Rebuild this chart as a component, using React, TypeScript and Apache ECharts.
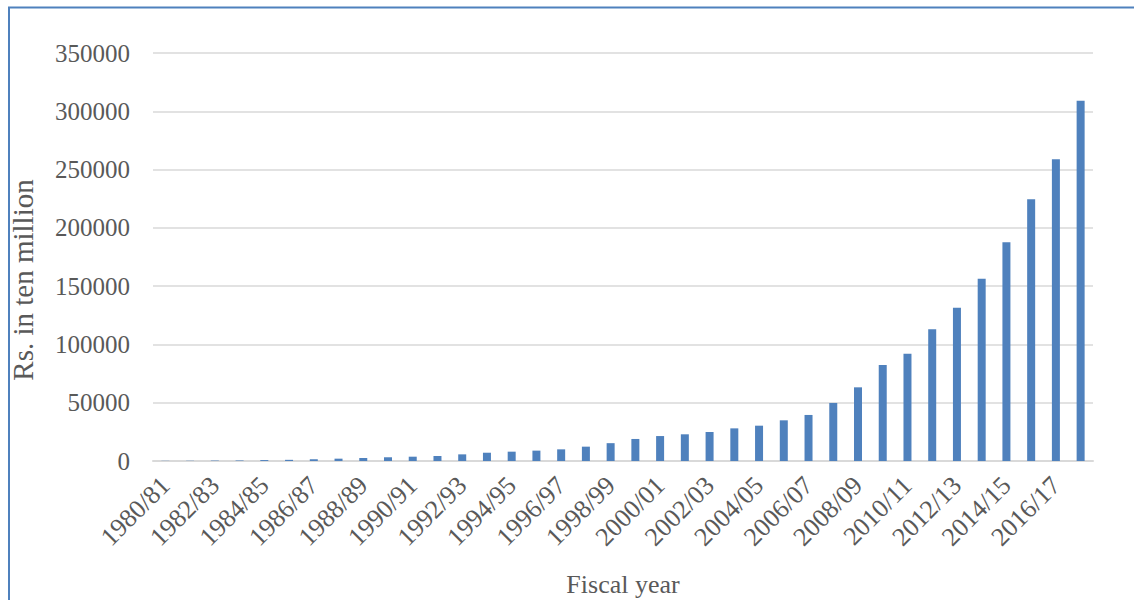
import React, { useEffect, useRef } from "react";
import * as echarts from "echarts";

// Fiscal years 1980/81 – 2017/18
const fiscalYears: string[] = [
  "1980/81", "1981/82", "1982/83", "1983/84", "1984/85", "1985/86", "1986/87", "1987/88",
  "1988/89", "1989/90", "1990/91", "1991/92", "1992/93", "1993/94", "1994/95", "1995/96",
  "1996/97", "1997/98", "1998/99", "1999/00", "2000/01", "2001/02", "2002/03", "2003/04",
  "2004/05", "2005/06", "2006/07", "2007/08", "2008/09", "2009/10", "2010/11", "2011/12",
  "2012/13", "2013/14", "2014/15", "2015/16", "2016/17", "2017/18",
];

// Amount, Rs. in ten million
const amounts: number[] = [
  150, 200, 350, 450, 800, 1000, 1500, 2000,
  2600, 3200, 3700, 4300, 5700, 7100, 8000, 8900,
  10000, 12300, 15300, 18900, 21400, 22900, 24900, 28000,
  30300, 34900, 39500, 49800, 63200, 82300, 92000, 113100,
  131500, 156400, 187600, 224500, 258800, 309100,
];

const yTicks = { min: 0, max: 350000, interval: 50000 };

const FONT = "'Liberation Serif', 'Times New Roman', serif";
const TEXT = "#595959";
const BLUE = "#4F81BD";

export default function App() {
  const ref = useRef<HTMLDivElement>(null);

  useEffect(() => {
    if (!ref.current) return;
    const chart = echarts.init(ref.current, undefined, { renderer: "svg" });
    chart.setOption({
      animation: false,
      backgroundColor: "#ffffff",
      textStyle: { fontFamily: FONT },
      grid: {
        left: 153,
        right: 41,
        top: 53,
        bottom: 139,
        containLabel: false,
        outerBoundsMode: "none",
      },
      graphic: [
        {
          type: "rect",
          shape: { x: 9, y: 7.5, width: 1400, height: 900 },
          style: { fill: "none", stroke: BLUE, lineWidth: 2 },
          silent: true,
        },
      ],
      xAxis: {
        type: "category",
        data: fiscalYears,
        name: "Fiscal year",
        nameLocation: "middle",
        nameGap: 110,
        nameTextStyle: { fontFamily: FONT, fontSize: 26, color: TEXT },
        axisLine: { show: true, lineStyle: { color: "#D9D9D9", width: 2 } },
        axisTick: { show: false },
        axisLabel: {
          interval: 1,
          rotate: 45,
          margin: 20,
          fontFamily: FONT,
          fontSize: 26,
          color: TEXT,
        },
      },
      yAxis: {
        type: "value",
        min: yTicks.min,
        max: yTicks.max,
        interval: yTicks.interval,
        name: "Rs. in ten million",
        nameLocation: "middle",
        nameGap: 116,
        nameTextStyle: {
          fontFamily: FONT,
          fontSize: 29,
          color: TEXT,
          padding: [0, 46, 0, 0],
        },
        axisLine: { show: false },
        axisTick: { show: false },
        axisLabel: {
          margin: 23,
          fontFamily: FONT,
          fontSize: 25,
          color: TEXT,
          formatter: (v: number) => String(v),
        },
        splitLine: { show: true, lineStyle: { color: "#D9D9D9", width: 1.5 } },
      },
      series: [
        {
          type: "bar",
          data: amounts,
          barWidth: 8,
          itemStyle: { color: BLUE },
        },
      ],
    });
    return () => chart.dispose();
  }, []);

  return (
    <div
      ref={ref}
      style={{ position: "fixed", left: 0, top: 0, width: 1134, height: 600 }}
    />
  );
}
